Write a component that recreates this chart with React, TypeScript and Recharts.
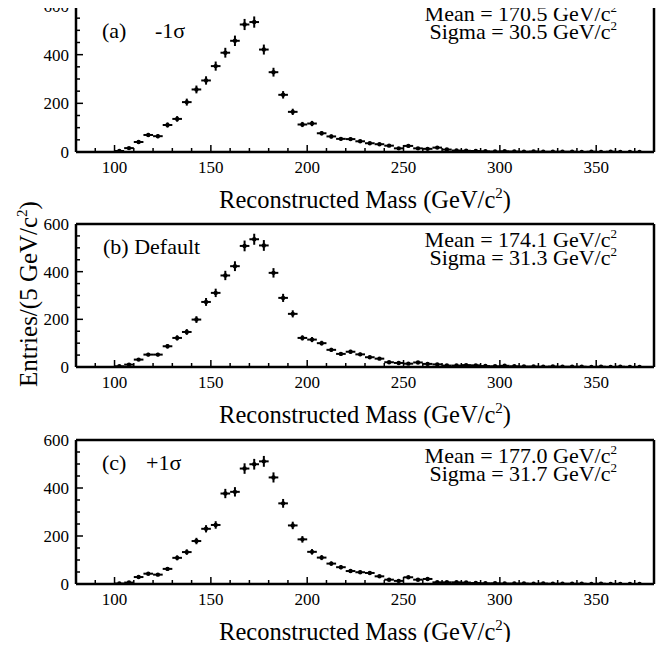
import React from 'react';
import { ScatterChart, Scatter, XAxis, YAxis, ErrorBar, ReferenceLine } from 'recharts';

// Bin centres (GeV/c^2), 5 GeV bins
const massBins = [
  102.5, 107.5, 112.5, 117.5, 122.5, 127.5, 132.5, 137.5, 142.5, 147.5,
  152.5, 157.5, 162.5, 167.5, 172.5, 177.5, 182.5, 187.5, 192.5, 197.5,
  202.5, 207.5, 212.5, 217.5, 222.5, 227.5, 232.5, 237.5, 242.5, 247.5,
  252.5, 257.5, 262.5, 267.5, 272.5, 277.5, 282.5, 287.5, 292.5, 297.5,
  302.5, 307.5, 312.5, 317.5, 322.5, 327.5, 332.5, 337.5, 342.5, 347.5,
  352.5, 357.5, 362.5, 367.5, 372.5,
];

const countsMinus = [
  4, 16, 41, 70, 65, 111, 136, 205, 257, 294,
  353, 408, 457, 524, 534, 421, 328, 235, 165, 113,
  117, 77, 64, 54, 53, 44, 36, 32, 26, 15,
  25, 15, 13, 18, 10, 6, 5, 4, 3, 2,
  3, 2, 1, 2, 1, 1, 1, 1, 0, 1,
  0, 1, 0, 0, 0,
];

const countsDefault = [
  3, 10, 31, 52, 52, 87, 122, 147, 199, 273,
  311, 384, 423, 508, 536, 510, 395, 290, 223, 122,
  115, 100, 72, 55, 64, 53, 41, 35, 20, 17,
  14, 19, 13, 11, 6, 6, 8, 7, 4, 3,
  5, 3, 2, 2, 1, 2, 1, 1, 1, 0,
  1, 0, 1, 0, 0,
];

const countsPlus = [
  2, 6, 29, 43, 39, 63, 109, 133, 179, 230,
  246, 377, 384, 481, 499, 511, 444, 336, 244, 186,
  134, 110, 85, 70, 54, 49, 46, 32, 18, 13,
  28, 18, 21, 7, 7, 7, 6, 4, 3, 3,
  2, 2, 2, 1, 2, 1, 1, 1, 1, 0,
  1, 0, 0, 0, 0,
];

const panelTagA = ['(a)', '-1σ'];
const panelTagB = ['(b) Default', ''];
const panelTagC = ['(c)', '+1σ'];
const meanLabels = ['Mean = 170.5 GeV/c', 'Mean = 174.1 GeV/c', 'Mean = 177.0 GeV/c'];
const sigmaLabels = ['Sigma = 30.5 GeV/c', 'Sigma = 31.3 GeV/c', 'Sigma = 31.7 GeV/c'];

const xTicks = [90, 100, 110, 120, 130, 140, 150, 160, 170, 180, 190, 200, 210, 220, 230, 240, 250, 260, 270, 280, 290, 300, 310, 320, 330, 340, 350, 360, 370];
const xLabelStep = 50;
const yTicks = [0, 50, 100, 150, 200, 250, 300, 350, 400, 450, 500, 550, 600];
const yLabelStep = 200;
const xDomain = [80, 380];
const yDomain = [0, 600];

const xTitle = 'Reconstructed Mass (GeV/c';
const yTitle = 'Entries/(5 GeV/c';

const FONT = '"Liberation Serif", "DejaVu Serif", serif';

const makeRows = (counts: number[]) =>
  massBins.map((m, i) => ({ m, n: counts[i], ex: 2.5, ey: Math.sqrt(counts[i]) }));

const XTick = (props: any) => {
  const { x, y, payload } = props;
  const v = payload.value;
  const major = v % xLabelStep === 0;
  return (
    <g>
      <line x1={x} x2={x} y1={y} y2={y - (major ? 7 : 4)} stroke="#000" strokeWidth={1.5} />
      {major && (
        <text x={x} y={y + 21} textAnchor="middle" fontSize={17} fontFamily={FONT} fill="#000">
          {v}
        </text>
      )}
    </g>
  );
};

const YTick = (props: any) => {
  const { x, y, payload } = props;
  const v = payload.value;
  const major = v % yLabelStep === 0;
  return (
    <g>
      <line x1={x} x2={x + (major ? 7 : 4)} y1={y} y2={y} stroke="#000" strokeWidth={1.5} />
      {major && (
        <text x={x - 7} y={y + 6} textAnchor="end" fontSize={17} fontFamily={FONT} fill="#000">
          {v}
        </text>
      )}
    </g>
  );
};

const Dot = (props: any) => {
  const { cx, cy } = props;
  if (cx == null || cy == null) return null;
  return <circle cx={cx} cy={cy} r={2.2} fill="#000" />;
};

const XTitle = (props: any) => {
  const vb = props.viewBox || {};
  const cx = vb.x + vb.width / 2;
  const y = vb.y + 56;
  return (
    <text x={cx} y={y} textAnchor="middle" fontSize={24.5} fontFamily={FONT} fill="#000">
      {xTitle}
      <tspan dy={-10} fontSize={15}>2</tspan>
      <tspan dy={10}>)</tspan>
    </text>
  );
};

// layout
const W = 672;
const CH = 216;
const ML = 76; // y-axis width
const MR = 18;
const FW = 2.5; // frame line width
const panels = [
  { counts: countsMinus, mTop: 6, axisH: 64 },
  { counts: countsDefault, mTop: 8, axisH: 65 },
  { counts: countsPlus, mTop: 8, axisH: 64 },
];

const Panel = ({ counts, mTop, axisH }: any) => (
  <div style={{ width: W, height: CH }}>
    <ScatterChart width={W} height={CH} margin={{ top: mTop, right: MR, bottom: 0, left: 0 }}>
      <XAxis
        dataKey="m"
        type="number"
        domain={xDomain}
        ticks={xTicks}
        interval={0}
        tickSize={0}
        tickMargin={0}
        tickLine={false}
        tick={<XTick />}
        height={axisH}
        axisLine={{ stroke: '#000', strokeWidth: FW }}
        label={<XTitle />}
        allowDataOverflow
      />
      <YAxis
        dataKey="n"
        type="number"
        domain={yDomain}
        ticks={yTicks}
        interval={0}
        tickSize={0}
        tickMargin={0}
        tickLine={false}
        tick={<YTick />}
        width={ML}
        axisLine={{ stroke: '#000', strokeWidth: FW }}
        allowDataOverflow
      />
      <ReferenceLine y={yDomain[1]} stroke="#000" strokeWidth={FW} ifOverflow="visible" />
      <ReferenceLine x={xDomain[1]} stroke="#000" strokeWidth={FW} ifOverflow="visible" />
      <Scatter data={makeRows(counts)} dataKey="n" isAnimationActive={false} shape={<Dot />}>
        <ErrorBar dataKey="ex" direction="x" width={0} stroke="#000" strokeWidth={2} isAnimationActive={false} />
        <ErrorBar dataKey="ey" direction="y" width={0} stroke="#000" strokeWidth={2} isAnimationActive={false} />
      </Scatter>
    </ScatterChart>
  </div>
);

const tags = [panelTagA, panelTagB, panelTagC];
const tagPos = [
  { x: 102, y: 38, x2: 155, my: 21, sy: 39 },
  { x: 103, y: 254, x2: 0, my: 247, sy: 265 },
  { x: 102, y: 470, x2: 146, my: 463, sy: 481 },
];

export default function App() {
  return (
    <div style={{ position: 'relative', margin: -8, width: W, height: 650, background: '#fff', overflow: 'hidden' }}>
      {panels.map((p, i) => (
        <Panel key={i} {...p} />
      ))}
      <svg width={W} height={650} style={{ position: 'absolute', left: 0, top: 0, pointerEvents: 'none' }}>
        {tags.map((t, i) => (
          <g key={i} fontFamily={FONT} fill="#000">
            <text x={tagPos[i].x} y={tagPos[i].y} fontSize={22}>{t[0]}</text>
            {t[1] && <text x={tagPos[i].x2} y={tagPos[i].y} fontSize={22}>{t[1]}</text>}
            <text x={617} y={tagPos[i].my} fontSize={22} textAnchor="end">
              {meanLabels[i]}
              <tspan dy={-9} fontSize={13}>2</tspan>
            </text>
            <text x={617} y={tagPos[i].sy} fontSize={22} textAnchor="end">
              {sigmaLabels[i]}
              <tspan dy={-9} fontSize={13}>2</tspan>
            </text>
          </g>
        ))}
        <text
          transform="translate(37, 294) rotate(-90)"
          textAnchor="middle"
          fontSize={25}
          fontFamily={FONT}
          fill="#000"
        >
          {yTitle}
          <tspan dy={-10} fontSize={15}>2</tspan>
          <tspan dy={10}>)</tspan>
        </text>
      </svg>
    </div>
  );
}
